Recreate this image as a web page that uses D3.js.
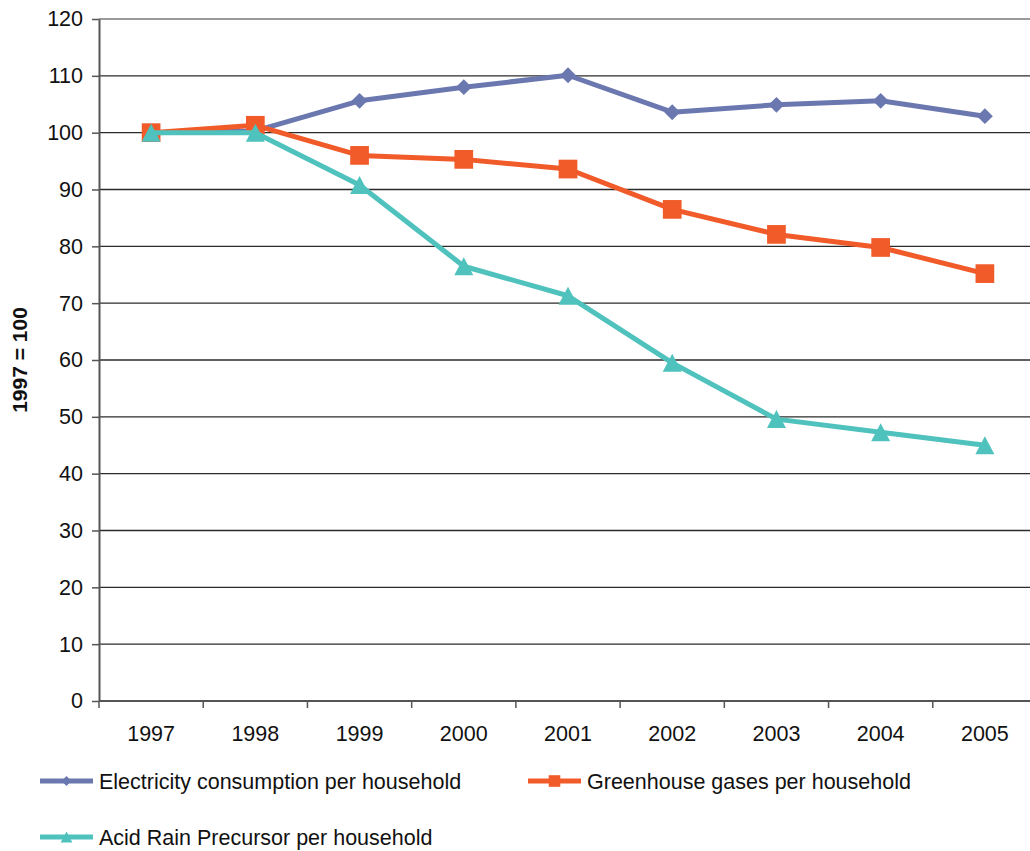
<!DOCTYPE html>
<html>
<head>
<meta charset="utf-8">
<script src="https://cdn.jsdelivr.net/npm/d3@7"></script>
<style>
  html, body { margin: 0; padding: 0; background: #fff; }
  svg { display: block; font-family: "Liberation Sans", Arial, sans-serif; }
</style>
</head>
<body>
<svg id="chart" width="1030" height="851"></svg>
<script>
// Index values per household, 1997 = 100
const years = ["1997", "1998", "1999", "2000", "2001", "2002", "2003", "2004", "2005"];
const electricity = [100, 100.3, 105.6, 108.0, 110.1, 103.6, 104.9, 105.6, 102.9];
const greenhouse = [100, 101.3, 96.0, 95.3, 93.6, 86.5, 82.1, 79.8, 75.2];
const acidRain = [100, 100.0, 90.8, 76.5, 71.3, 59.5, 49.6, 47.3, 45.0];
const yTicks = [0, 10, 20, 30, 40, 50, 60, 70, 80, 90, 100, 110, 120];

const series = [
  { name: "Electricity consumption per household", values: electricity, color: "#6b78b0", marker: "diamond" },
  { name: "Greenhouse gases per household", values: greenhouse, color: "#f15a29", marker: "square" },
  { name: "Acid Rain Precursor per household", values: acidRain, color: "#4fc2bd", marker: "triangle" }
];

const svg = d3.select("#chart");
const plot = { left: 99, top: 19, right: 1037, bottom: 701 };

const x = d3.scaleBand().domain(years).range([plot.left, plot.right]);
const y = d3.scaleLinear().domain([0, 120]).range([plot.bottom, plot.top]);

// Horizontal gridlines
svg.append("g")
  .selectAll("line")
  .data(yTicks.filter(t => t > 0))
  .join("line")
  .attr("x1", plot.left).attr("x2", 1030)
  .attr("y1", d => y(d)).attr("y2", d => y(d))
  .attr("stroke", d => d === 120 ? "#9a9a9a" : "#2b2b2b")
  .attr("stroke-width", d => d === 120 ? 2 : 1.3);

// Y axis
const yAxis = svg.append("g")
  .attr("transform", `translate(${plot.left},0)`)
  .call(d3.axisLeft(y).tickValues(yTicks).tickSize(7).tickPadding(9).tickSizeOuter(0));
yAxis.select(".domain").attr("stroke", "#555").attr("stroke-width", 2);
yAxis.selectAll(".tick line").attr("stroke", "#555").attr("stroke-width", 1.5);
yAxis.selectAll(".tick text").attr("font-size", 21.5).attr("fill", "#111")
  .attr("font-family", "'Liberation Sans', Arial, sans-serif");

// X axis with ticks at band boundaries
const xAxisG = svg.append("g").attr("transform", `translate(0,${plot.bottom})`);
xAxisG.append("line")
  .attr("x1", plot.left).attr("x2", 1030)
  .attr("stroke", "#555").attr("stroke-width", 2);
xAxisG.selectAll("line.tk")
  .data(years)
  .join("line")
  .attr("class", "tk")
  .attr("x1", d => x(d)).attr("x2", d => x(d))
  .attr("y1", 0).attr("y2", 7)
  .attr("stroke", "#555").attr("stroke-width", 1.5);
xAxisG.selectAll("text")
  .data(years)
  .join("text")
  .attr("x", d => x(d) + x.bandwidth() / 2)
  .attr("y", 40)
  .attr("text-anchor", "middle")
  .attr("font-size", 21.5)
  .attr("fill", "#111")
  .text(d => d);

// Y axis title
svg.append("text")
  .attr("transform", "translate(27,360) rotate(-90)")
  .attr("text-anchor", "middle")
  .attr("font-size", 21)
  .attr("font-weight", "bold")
  .attr("fill", "#111")
  .text("1997 = 100");

const cx = d => x(d) + x.bandwidth() / 2;

// Marker shapes
const markerPath = (m, scale) => {
  if (m === "diamond") return d3.symbol().type(d3.symbolDiamond2).size(160 * scale * scale)();
  if (m === "square") return d3.symbol().type(d3.symbolSquare).size(350 * scale * scale)();
  const w = 9.5 * scale, h = 9 * scale;
  return `M0,${-h}L${w},${h}L${-w},${h}Z`;
};

const line = d3.line().x((d, i) => cx(years[i])).y(d => y(d));

series.forEach(s => {
  svg.append("path")
    .datum(s.values)
    .attr("d", line)
    .attr("fill", "none")
    .attr("stroke", s.color)
    .attr("stroke-width", 5)
    .attr("stroke-linejoin", "round");
  svg.append("g")
    .selectAll("path")
    .data(s.values)
    .join("path")
    .attr("transform", (d, i) => `translate(${cx(years[i])},${y(d)})`)
    .attr("d", markerPath(s.marker, 1))
    .attr("fill", s.color);
});

// Legend
const legendPos = [
  { x: 40, y: 781 },
  { x: 528, y: 781 },
  { x: 40, y: 837 }
];
series.forEach((s, i) => {
  const p = legendPos[i];
  const g = svg.append("g").attr("transform", `translate(${p.x},${p.y})`);
  g.append("line").attr("x1", 0).attr("x2", 53).attr("stroke", s.color).attr("stroke-width", 5);
  g.append("path")
    .attr("transform", "translate(26.5,0)")
    .attr("d", markerPath(s.marker, 0.62))
    .attr("fill", s.color);
  g.append("text")
    .attr("x", 59)
    .attr("y", 7.5)
    .attr("font-size", 21.5)
    .attr("fill", "#111")
    .text(s.name);
});
</script>
</body>
</html>
